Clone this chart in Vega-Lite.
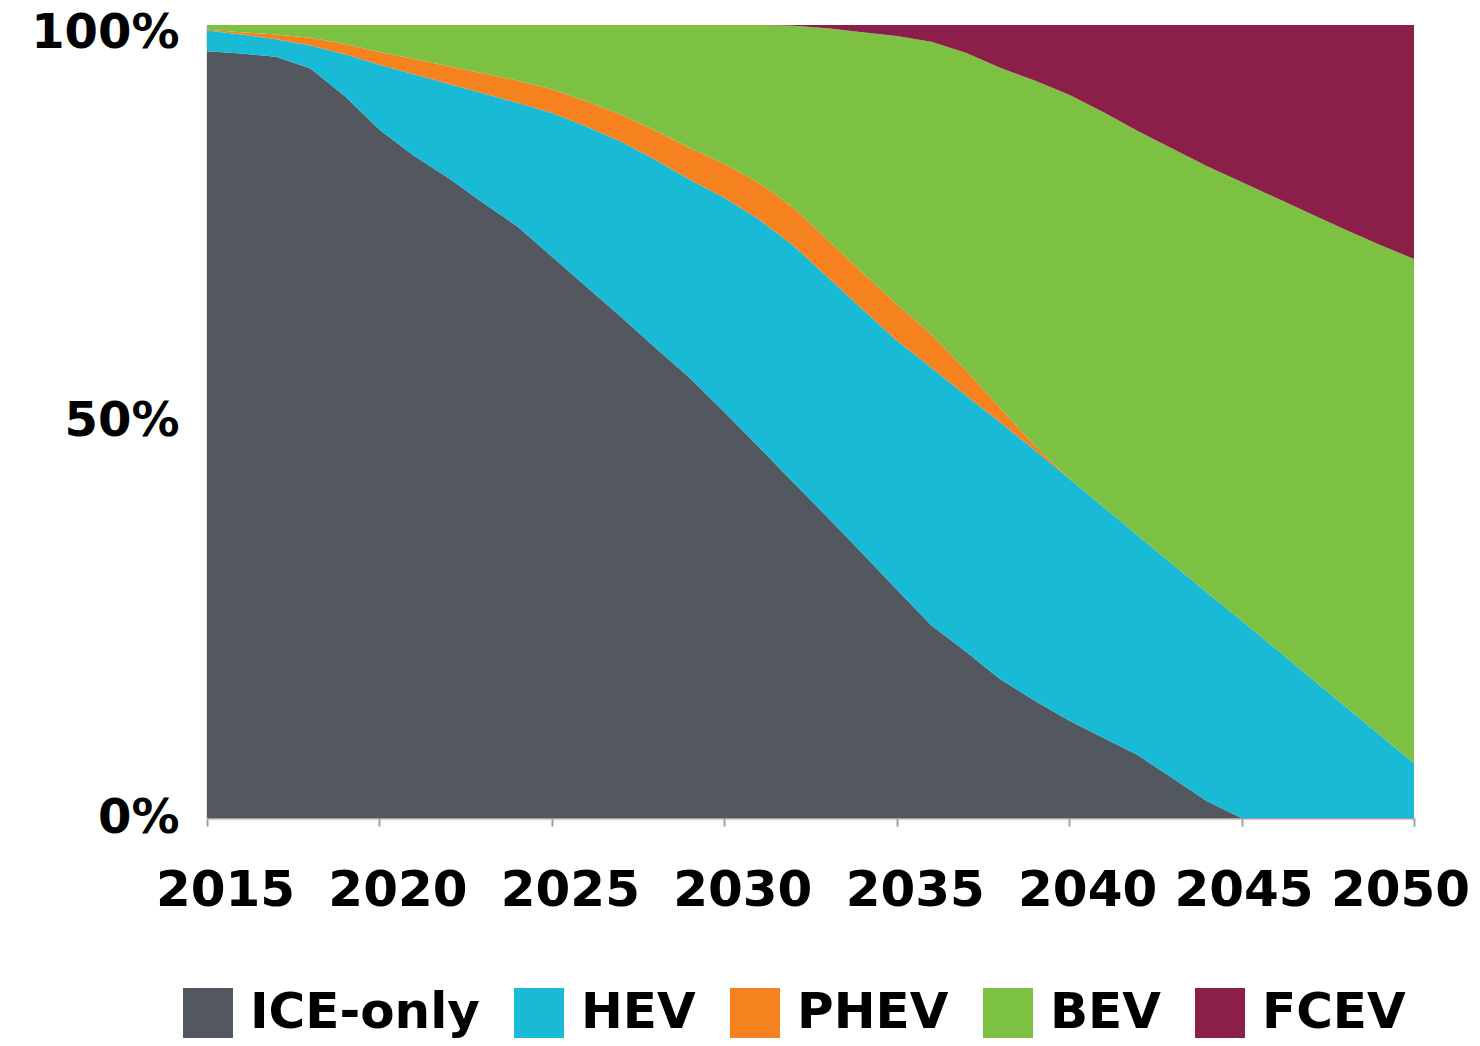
{
  "$schema": "https://vega.github.io/schema/vega-lite/v6.json",
  "width": 1207,
  "height": 793,
  "autosize": "none",
  "padding": {"left": 207, "top": 25, "right": 66, "bottom": 228},
  "background": "white",
  "config": {"view": {"stroke": null}},
  "datasets": {
    "shares": [
      {"year":2015,"type":"ICE-only","share":96.7,"k":1},{"year":2015,"type":"HEV","share":2.6,"k":2},{"year":2015,"type":"PHEV","share":0.1,"k":3},{"year":2015,"type":"BEV","share":0.6,"k":4},{"year":2015,"type":"FCEV","share":0,"k":5},
      {"year":2016,"type":"ICE-only","share":96.4,"k":1},{"year":2016,"type":"HEV","share":2.4,"k":2},{"year":2016,"type":"PHEV","share":0.3,"k":3},{"year":2016,"type":"BEV","share":0.9,"k":4},{"year":2016,"type":"FCEV","share":0,"k":5},
      {"year":2017,"type":"ICE-only","share":96.0,"k":1},{"year":2017,"type":"HEV","share":2.2,"k":2},{"year":2017,"type":"PHEV","share":0.6,"k":3},{"year":2017,"type":"BEV","share":1.2,"k":4},{"year":2017,"type":"FCEV","share":0,"k":5},
      {"year":2018,"type":"ICE-only","share":94.5,"k":1},{"year":2018,"type":"HEV","share":2.9,"k":2},{"year":2018,"type":"PHEV","share":1.0,"k":3},{"year":2018,"type":"BEV","share":1.6,"k":4},{"year":2018,"type":"FCEV","share":0,"k":5},
      {"year":2019,"type":"ICE-only","share":91.0,"k":1},{"year":2019,"type":"HEV","share":5.3,"k":2},{"year":2019,"type":"PHEV","share":1.3,"k":3},{"year":2019,"type":"BEV","share":2.4,"k":4},{"year":2019,"type":"FCEV","share":0,"k":5},
      {"year":2020,"type":"ICE-only","share":86.8,"k":1},{"year":2020,"type":"HEV","share":8.2,"k":2},{"year":2020,"type":"PHEV","share":1.6,"k":3},{"year":2020,"type":"BEV","share":3.4,"k":4},{"year":2020,"type":"FCEV","share":0,"k":5},
      {"year":2021,"type":"ICE-only","share":83.5,"k":1},{"year":2021,"type":"HEV","share":10.3,"k":2},{"year":2021,"type":"PHEV","share":1.9,"k":3},{"year":2021,"type":"BEV","share":4.3,"k":4},{"year":2021,"type":"FCEV","share":0,"k":5},
      {"year":2022,"type":"ICE-only","share":80.7,"k":1},{"year":2022,"type":"HEV","share":11.9,"k":2},{"year":2022,"type":"PHEV","share":2.2,"k":3},{"year":2022,"type":"BEV","share":5.2,"k":4},{"year":2022,"type":"FCEV","share":0,"k":5},
      {"year":2023,"type":"ICE-only","share":77.6,"k":1},{"year":2023,"type":"HEV","share":13.8,"k":2},{"year":2023,"type":"PHEV","share":2.5,"k":3},{"year":2023,"type":"BEV","share":6.1,"k":4},{"year":2023,"type":"FCEV","share":0,"k":5},
      {"year":2024,"type":"ICE-only","share":74.6,"k":1},{"year":2024,"type":"HEV","share":15.6,"k":2},{"year":2024,"type":"PHEV","share":2.8,"k":3},{"year":2024,"type":"BEV","share":7.0,"k":4},{"year":2024,"type":"FCEV","share":0,"k":5},
      {"year":2025,"type":"ICE-only","share":70.8,"k":1},{"year":2025,"type":"HEV","share":18.1,"k":2},{"year":2025,"type":"PHEV","share":3.0,"k":3},{"year":2025,"type":"BEV","share":8.1,"k":4},{"year":2025,"type":"FCEV","share":0,"k":5},
      {"year":2026,"type":"ICE-only","share":67.0,"k":1},{"year":2026,"type":"HEV","share":20.2,"k":2},{"year":2026,"type":"PHEV","share":3.2,"k":3},{"year":2026,"type":"BEV","share":9.6,"k":4},{"year":2026,"type":"FCEV","share":0,"k":5},
      {"year":2027,"type":"ICE-only","share":63.2,"k":1},{"year":2027,"type":"HEV","share":22.1,"k":2},{"year":2027,"type":"PHEV","share":3.4,"k":3},{"year":2027,"type":"BEV","share":11.3,"k":4},{"year":2027,"type":"FCEV","share":0,"k":5},
      {"year":2028,"type":"ICE-only","share":59.3,"k":1},{"year":2028,"type":"HEV","share":23.7,"k":2},{"year":2028,"type":"PHEV","share":3.7,"k":3},{"year":2028,"type":"BEV","share":13.3,"k":4},{"year":2028,"type":"FCEV","share":0,"k":5},
      {"year":2029,"type":"ICE-only","share":55.5,"k":1},{"year":2029,"type":"HEV","share":25.0,"k":2},{"year":2029,"type":"PHEV","share":4.0,"k":3},{"year":2029,"type":"BEV","share":15.5,"k":4},{"year":2029,"type":"FCEV","share":0,"k":5},
      {"year":2030,"type":"ICE-only","share":51.2,"k":1},{"year":2030,"type":"HEV","share":27.0,"k":2},{"year":2030,"type":"PHEV","share":4.3,"k":3},{"year":2030,"type":"BEV","share":17.5,"k":4},{"year":2030,"type":"FCEV","share":0,"k":5},
      {"year":2031,"type":"ICE-only","share":46.8,"k":1},{"year":2031,"type":"HEV","share":28.7,"k":2},{"year":2031,"type":"PHEV","share":4.6,"k":3},{"year":2031,"type":"BEV","share":19.9,"k":4},{"year":2031,"type":"FCEV","share":0,"k":5},
      {"year":2032,"type":"ICE-only","share":42.3,"k":1},{"year":2032,"type":"HEV","share":29.9,"k":2},{"year":2032,"type":"PHEV","share":4.8,"k":3},{"year":2032,"type":"BEV","share":22.9,"k":4},{"year":2032,"type":"FCEV","share":0.1,"k":5},
      {"year":2033,"type":"ICE-only","share":37.9,"k":1},{"year":2033,"type":"HEV","share":30.3,"k":2},{"year":2033,"type":"PHEV","share":4.7,"k":3},{"year":2033,"type":"BEV","share":26.7,"k":4},{"year":2033,"type":"FCEV","share":0.4,"k":5},
      {"year":2034,"type":"ICE-only","share":33.4,"k":1},{"year":2034,"type":"HEV","share":30.8,"k":2},{"year":2034,"type":"PHEV","share":4.6,"k":3},{"year":2034,"type":"BEV","share":30.3,"k":4},{"year":2034,"type":"FCEV","share":0.9,"k":5},
      {"year":2035,"type":"ICE-only","share":28.8,"k":1},{"year":2035,"type":"HEV","share":31.4,"k":2},{"year":2035,"type":"PHEV","share":4.6,"k":3},{"year":2035,"type":"BEV","share":33.8,"k":4},{"year":2035,"type":"FCEV","share":1.4,"k":5},
      {"year":2036,"type":"ICE-only","share":24.3,"k":1},{"year":2036,"type":"HEV","share":32.5,"k":2},{"year":2036,"type":"PHEV","share":4.2,"k":3},{"year":2036,"type":"BEV","share":36.9,"k":4},{"year":2036,"type":"FCEV","share":2.1,"k":5},
      {"year":2037,"type":"ICE-only","share":21.0,"k":1},{"year":2037,"type":"HEV","share":32.3,"k":2},{"year":2037,"type":"PHEV","share":3.2,"k":3},{"year":2037,"type":"BEV","share":40.0,"k":4},{"year":2037,"type":"FCEV","share":3.5,"k":5},
      {"year":2038,"type":"ICE-only","share":17.5,"k":1},{"year":2038,"type":"HEV","share":32.4,"k":2},{"year":2038,"type":"PHEV","share":1.8,"k":3},{"year":2038,"type":"BEV","share":42.9,"k":4},{"year":2038,"type":"FCEV","share":5.4,"k":5},
      {"year":2039,"type":"ICE-only","share":14.8,"k":1},{"year":2039,"type":"HEV","share":31.6,"k":2},{"year":2039,"type":"PHEV","share":0.6,"k":3},{"year":2039,"type":"BEV","share":46.0,"k":4},{"year":2039,"type":"FCEV","share":7.0,"k":5},
      {"year":2040,"type":"ICE-only","share":12.3,"k":1},{"year":2040,"type":"HEV","share":30.5,"k":2},{"year":2040,"type":"PHEV","share":0,"k":3},{"year":2040,"type":"BEV","share":48.4,"k":4},{"year":2040,"type":"FCEV","share":8.8,"k":5},
      {"year":2041,"type":"ICE-only","share":10.1,"k":1},{"year":2041,"type":"HEV","share":29.1,"k":2},{"year":2041,"type":"PHEV","share":0,"k":3},{"year":2041,"type":"BEV","share":49.8,"k":4},{"year":2041,"type":"FCEV","share":11.0,"k":5},
      {"year":2042,"type":"ICE-only","share":7.9,"k":1},{"year":2042,"type":"HEV","share":27.7,"k":2},{"year":2042,"type":"PHEV","share":0,"k":3},{"year":2042,"type":"BEV","share":51.0,"k":4},{"year":2042,"type":"FCEV","share":13.4,"k":5},
      {"year":2043,"type":"ICE-only","share":5.0,"k":1},{"year":2043,"type":"HEV","share":27.0,"k":2},{"year":2043,"type":"PHEV","share":0,"k":3},{"year":2043,"type":"BEV","share":52.4,"k":4},{"year":2043,"type":"FCEV","share":15.6,"k":5},
      {"year":2044,"type":"ICE-only","share":2.1,"k":1},{"year":2044,"type":"HEV","share":26.3,"k":2},{"year":2044,"type":"PHEV","share":0,"k":3},{"year":2044,"type":"BEV","share":53.8,"k":4},{"year":2044,"type":"FCEV","share":17.8,"k":5},
      {"year":2045,"type":"ICE-only","share":0,"k":1},{"year":2045,"type":"HEV","share":24.9,"k":2},{"year":2045,"type":"PHEV","share":0,"k":3},{"year":2045,"type":"BEV","share":55.3,"k":4},{"year":2045,"type":"FCEV","share":19.8,"k":5},
      {"year":2046,"type":"ICE-only","share":0,"k":1},{"year":2046,"type":"HEV","share":21.3,"k":2},{"year":2046,"type":"PHEV","share":0,"k":3},{"year":2046,"type":"BEV","share":56.9,"k":4},{"year":2046,"type":"FCEV","share":21.8,"k":5},
      {"year":2047,"type":"ICE-only","share":0,"k":1},{"year":2047,"type":"HEV","share":17.7,"k":2},{"year":2047,"type":"PHEV","share":0,"k":3},{"year":2047,"type":"BEV","share":58.5,"k":4},{"year":2047,"type":"FCEV","share":23.8,"k":5},
      {"year":2048,"type":"ICE-only","share":0,"k":1},{"year":2048,"type":"HEV","share":14.1,"k":2},{"year":2048,"type":"PHEV","share":0,"k":3},{"year":2048,"type":"BEV","share":60.1,"k":4},{"year":2048,"type":"FCEV","share":25.8,"k":5},
      {"year":2049,"type":"ICE-only","share":0,"k":1},{"year":2049,"type":"HEV","share":10.5,"k":2},{"year":2049,"type":"PHEV","share":0,"k":3},{"year":2049,"type":"BEV","share":61.8,"k":4},{"year":2049,"type":"FCEV","share":27.7,"k":5},
      {"year":2050,"type":"ICE-only","share":0,"k":1},{"year":2050,"type":"HEV","share":6.9,"k":2},{"year":2050,"type":"PHEV","share":0,"k":3},{"year":2050,"type":"BEV","share":63.6,"k":4},{"year":2050,"type":"FCEV","share":29.5,"k":5}
    ]
  },
  "data": {"name": "shares"},
  "mark": {"type": "area", "opacity": 1, "interpolate": "linear"},
  "encoding": {
    "x": {
      "field": "year",
      "type": "quantitative",
      "scale": {"domain": [2015, 2050], "nice": false, "zero": false},
      "axis": {
        "title": null,
        "values": [2015, 2020, 2025, 2030, 2035, 2040, 2045, 2050],
        "format": "d",
        "grid": false,
        "domainColor": "#a0a0a0",
        "domainWidth": 2,
        "tickColor": "#a0a0a0",
        "tickWidth": 2,
        "tickSize": 8,
        "labelFont": "DejaVu Sans",
        "labelFontWeight": "bold",
        "labelFontSize": 50,
        "labelColor": "#000000",
        "labelPadding": 39,
        "labelOffset": {"condition": [{"test": "datum.value == 2045", "value": 2}, {"test": "datum.value == 2050", "value": -14}], "value": 18},
        "labelFlush": false,
        "labelOverlap": false
      }
    },
    "y": {
      "field": "share",
      "type": "quantitative",
      "stack": "normalize",
      "scale": {"domain": [0, 1], "nice": false},
      "axis": {
        "title": null,
        "values": [0, 0.5, 1],
        "format": ".0%",
        "grid": false,
        "ticks": false,
        "domainColor": "#c8c8c8",
        "domainWidth": 2,
        "labelFont": "DejaVu Sans",
        "labelFontWeight": "bold",
        "labelFontSize": 48,
        "labelColor": "#000000",
        "labelPadding": 28,
        "labelOffset": {"condition": {"test": "datum.value == 1", "value": 8}, "value": 0},
        "labelFlush": false,
        "labelOverlap": false
      }
    },
    "order": {"field": "k", "type": "quantitative", "sort": "ascending"},
    "color": {
      "field": "type",
      "type": "nominal",
      "sort": ["ICE-only", "HEV", "PHEV", "BEV", "FCEV"],
      "scale": {
        "domain": ["ICE-only", "HEV", "PHEV", "BEV", "FCEV"],
        "range": ["#53575F", "#19BAD5", "#F5821F", "#7CC142", "#8C1F49"]
      },
      "legend": {
        "title": null,
        "orient": "none",
        "legendX": -24,
        "legendY": 963,
        "direction": "horizontal",
        "symbolType": "square",
        "symbolSize": 2500,
        "symbolStrokeWidth": 0,
        "symbolOpacity": 1,
        "labelFont": "DejaVu Sans",
        "labelFontWeight": "bold",
        "labelFontSize": 50,
        "labelColor": "#000000",
        "labelOffset": 17,
        "labelLimit": 400,
        "columnPadding": 34
      }
    }
  }
}
